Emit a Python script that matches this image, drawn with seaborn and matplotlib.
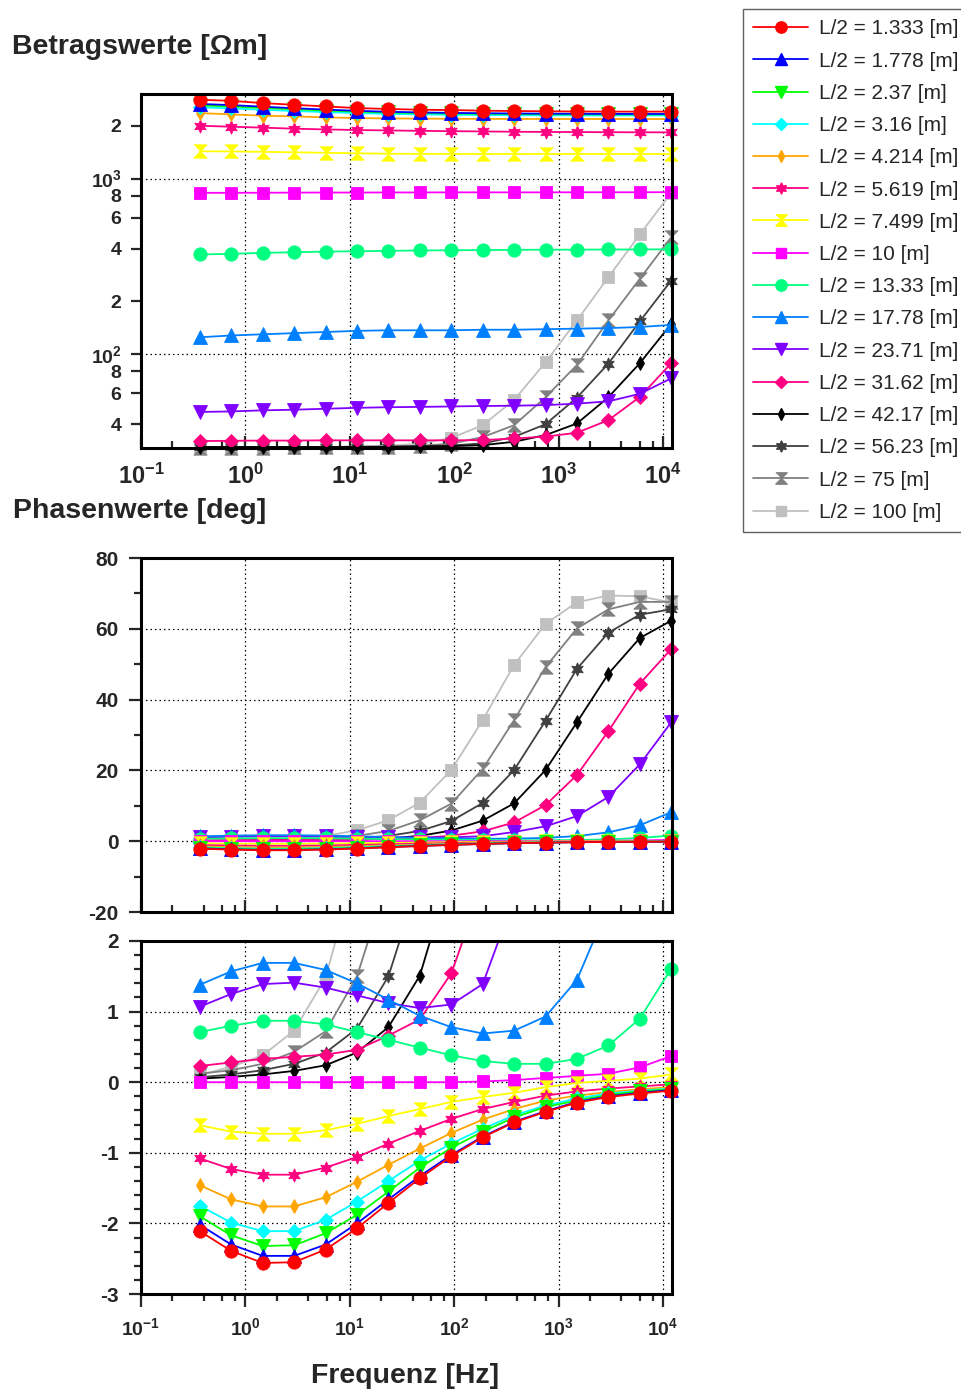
import matplotlib
matplotlib.use("Agg")
import matplotlib.pyplot as plt
from matplotlib.ticker import FixedLocator, FixedFormatter, NullFormatter
from matplotlib.lines import Line2D
import seaborn as sns

# ---------------------------------------------------------------- data
freq_hz = [0.366, 0.732, 1.465, 2.93, 5.86, 11.72, 23.44, 46.88, 93.75,
           187.5, 375.0, 750.0, 1500.0, 3000.0, 6000.0, 12000.0]

half_spacing = ["1.333", "1.778", "2.37", "3.16", "4.214", "5.619", "7.499",
                "10", "13.33", "17.78", "23.71", "31.62", "42.17", "56.23",
                "75", "100"]

# apparent resistivity magnitude [Ohm m]
amp_1_333 = [2810, 2770, 2690, 2630, 2575, 2520, 2490, 2465, 2455, 2435, 2425, 2415, 2410, 2405, 2405, 2405]
amp_1_778 = [2660, 2620, 2565, 2515, 2470, 2430, 2400, 2380, 2365, 2355, 2348, 2342, 2338, 2335, 2333, 2332]
amp_2_37 = [2610, 2575, 2525, 2480, 2440, 2405, 2378, 2360, 2348, 2338, 2330, 2325, 2322, 2320, 2318, 2318]
amp_3_16 = [2545, 2510, 2465, 2425, 2390, 2360, 2335, 2320, 2308, 2300, 2295, 2292, 2290, 2288, 2287, 2286]
amp_4_214 = [2360, 2320, 2280, 2260, 2230, 2210, 2200, 2195, 2190, 2188, 2185, 2185, 2183, 2183, 2183, 2183]
amp_5_619 = [2000, 1973, 1950, 1923, 1905, 1890, 1880, 1870, 1862, 1855, 1848, 1843, 1840, 1837, 1835, 1833]
amp_7_499 = [1430, 1428, 1420, 1412, 1402, 1393, 1385, 1382, 1381, 1380, 1380, 1380, 1380, 1380, 1380, 1380]
amp_10 = [830, 830, 831, 832, 833, 833, 834, 834, 835, 835, 835, 835, 836, 836, 836, 837]
amp_13_33 = [370, 373, 378, 381, 384, 386, 388, 390, 391, 392, 393, 394, 394, 395, 395, 396]
amp_17_78 = [125, 128, 130, 132, 134, 136, 137, 137, 137, 138, 138, 139, 140, 141, 143, 147]
amp_23_71 = [47.0, 47.3, 48.0, 48.4, 49.0, 49.6, 50.0, 50.2, 50.5, 50.8, 51.0, 51.4, 52.4, 54.0, 59.6, 73.0]
amp_31_62 = [32.1, 32.2, 32.3, 32.3, 32.4, 32.4, 32.4, 32.4, 32.4, 32.5, 33.2, 34.0, 35.8, 42.2, 57.2, 89.0]
amp_42_17 = [29.7, 29.7, 29.7, 29.7, 29.7, 29.8, 29.8, 29.9, 30.0, 30.4, 31.8, 34.7, 40.4, 57.0, 89.0, 149.0]
amp_56_23 = [29.5, 29.5, 29.5, 29.5, 29.6, 29.6, 29.7, 29.9, 30.3, 31.1, 33.9, 40.0, 56.7, 88.6, 154.0, 263.0]
amp_75 = [29.4, 29.4, 29.4, 29.5, 29.5, 29.6, 29.8, 30.2, 31.0, 33.8, 39.5, 57.0, 87.0, 156.0, 269.0, 464.0]
amp_100 = [29.3, 29.3, 29.4, 29.4, 29.5, 29.8, 30.2, 31.0, 33.4, 39.5, 55.0, 90.0, 156.0, 275.0, 481.0, 830.0]

# phase [deg]
pha_1_333 = [-2.11, -2.39, -2.56, -2.55, -2.37, -2.07, -1.71, -1.36, -1.05, -0.78, -0.57, -0.42, -0.29, -0.21, -0.16, -0.12]
pha_1_778 = [-2.02, -2.30, -2.46, -2.46, -2.30, -2.00, -1.66, -1.33, -1.03, -0.77, -0.56, -0.41, -0.28, -0.20, -0.15, -0.11]
pha_2_37 = [-1.90, -2.17, -2.32, -2.31, -2.14, -1.88, -1.55, -1.21, -0.93, -0.70, -0.50, -0.35, -0.26, -0.18, -0.13, -0.10]
pha_3_16 = [-1.75, -1.99, -2.11, -2.11, -1.95, -1.69, -1.40, -1.11, -0.87, -0.66, -0.47, -0.33, -0.23, -0.16, -0.12, -0.09]
pha_4_214 = [-1.46, -1.66, -1.76, -1.76, -1.63, -1.41, -1.17, -0.94, -0.72, -0.53, -0.38, -0.26, -0.19, -0.14, -0.10, -0.07]
pha_5_619 = [-1.08, -1.23, -1.31, -1.31, -1.21, -1.06, -0.87, -0.69, -0.52, -0.38, -0.28, -0.19, -0.13, -0.09, -0.06, -0.03]
pha_7_499 = [-0.61, -0.70, -0.73, -0.73, -0.68, -0.59, -0.48, -0.38, -0.28, -0.21, -0.15, -0.07, -0.01, 0.02, 0.05, 0.11]
pha_10 = [0.0, 0.0, 0.0, 0.0, 0.0, 0.0, 0.0, 0.0, 0.0, 0.01, 0.03, 0.06, 0.09, 0.12, 0.21, 0.37]
pha_13_33 = [0.71, 0.80, 0.87, 0.87, 0.82, 0.71, 0.60, 0.49, 0.38, 0.30, 0.26, 0.26, 0.33, 0.52, 0.90, 1.61]
pha_17_78 = [1.38, 1.57, 1.69, 1.69, 1.59, 1.40, 1.17, 0.94, 0.78, 0.69, 0.73, 0.93, 1.45, 2.5, 4.5, 8.2]
pha_23_71 = [1.07, 1.25, 1.39, 1.41, 1.34, 1.23, 1.12, 1.05, 1.10, 1.39, 2.6, 4.2, 7.1, 12.5, 21.7, 33.6]
pha_31_62 = [0.23, 0.28, 0.33, 0.36, 0.39, 0.46, 0.66, 0.89, 1.54, 2.8, 5.3, 10.2, 18.7, 31.1, 44.5, 54.3]
pha_42_17 = [0.05, 0.075, 0.11, 0.16, 0.24, 0.42, 0.78, 1.51, 3.0, 5.8, 10.7, 20.1, 33.6, 47.3, 57.4, 62.3]
pha_56_23 = [0.07, 0.11, 0.17, 0.26, 0.42, 0.76, 1.50, 2.9, 5.7, 10.8, 20.1, 34.0, 48.7, 58.9, 64.0, 65.5]
pha_75 = [0.12, 0.17, 0.26, 0.43, 0.72, 1.50, 2.9, 5.9, 10.6, 20.4, 34.2, 49.2, 60.1, 65.5, 67.6, 67.6]
pha_100 = [0.10, 0.22, 0.38, 0.73, 1.48, 3.1, 5.9, 10.9, 20.1, 34.2, 49.8, 61.4, 67.5, 69.4, 69.2, 67.4]

amplitude = [amp_1_333, amp_1_778, amp_2_37, amp_3_16, amp_4_214, amp_5_619, amp_7_499, amp_10,
             amp_13_33, amp_17_78, amp_23_71, amp_31_62, amp_42_17, amp_56_23, amp_75, amp_100]
phase = [pha_1_333, pha_1_778, pha_2_37, pha_3_16, pha_4_214, pha_5_619, pha_7_499, pha_10,
         pha_13_33, pha_17_78, pha_23_71, pha_31_62, pha_42_17, pha_56_23, pha_75, pha_100]

# ---------------------------------------------------------------- styles
star6 = (6, 1, 0)
hourglass = [(-1, 1), (1, 1), (0, 0), (1, -1), (-1, -1), (0, 0)]
colors = ["#FF0000", "#0000FF", "#00FF00", "#00FFFF", "#FFA500", "#FF0080",
          "#FFFF00", "#FF00FF", "#00FF80", "#0080FF", "#8000FF", "#FF0080",
          "#000000", "#404040", "#808080", "#C0C0C0"]
markers = ["o", "^", "v", "D", "d", star6, hourglass, "s",
           "o", "^", "v", "D", "d", star6, hourglass, "s"]
msizes = [9.6, 9.4, 9.4, 6.8, 6.8, 9.6, 9.6, 9.0,
          9.6, 9.4, 9.4, 6.8, 6.8, 9.6, 9.6, 9.0]

sns.set_style("white")
plt.rcParams["font.family"] = ["Liberation Sans", "DejaVu Sans"]
plt.rcParams["font.weight"] = "bold"
plt.rcParams["axes.unicode_minus"] = False
plt.rcParams["mathtext.fontset"] = "custom"
plt.rcParams["mathtext.rm"] = "Liberation Sans"
plt.rcParams["mathtext.bf"] = "Liberation Sans:bold"

W, H = 961, 1393
fig = plt.figure(figsize=(W / 100, H / 100), dpi=100)


def box(left, top, right, bottom):
    return [left / W, 1 - bottom / H, (right - left) / W, (bottom - top) / H]


ax_amp = fig.add_axes(box(141, 94, 672, 448))
ax_ph = fig.add_axes(box(141, 558, 672, 912))
ax_zm = fig.add_axes(box(141, 941, 672, 1294))

LW = 1.3


def draw(ax, values, i, lo, hi):
    c = colors[i]
    sns.lineplot(x=freq_hz, y=values, ax=ax, color=c, linewidth=LW,
                 legend=False, errorbar=None, sort=False)
    pts = [(f, v) for f, v in zip(freq_hz, values) if lo <= v <= hi]
    sns.lineplot(x=[p[0] for p in pts], y=[p[1] for p in pts], ax=ax,
                 color=c, linestyle="none", marker=markers[i],
                 markersize=msizes[i], markeredgecolor=c, markeredgewidth=0.6,
                 clip_on=False, legend=False, errorbar=None, sort=False)


for i in reversed(range(len(half_spacing))):
    draw(ax_amp, amplitude[i], i, 29.0, 3100)
    draw(ax_ph, phase[i], i, -20, 80)
    draw(ax_zm, phase[i], i, -3, 2)

# ---------------------------------------------------------------- axes
decades = [0.1, 1, 10, 100, 1000, 10000]
dec_labels = [r"$\mathbf{10^{-1}}$", r"$\mathbf{10^{0}}$", r"$\mathbf{10^{1}}$",
              r"$\mathbf{10^{2}}$", r"$\mathbf{10^{3}}$", r"$\mathbf{10^{4}}$"]
minor_x = [m * d for d in decades[:-1] for m in (2, 4, 6, 8)] + [20000]

for ax in (ax_amp, ax_ph, ax_zm):
    ax.set_xscale("log")
    ax.set_xlim(0.1, 12200)
    ax.xaxis.set_major_locator(FixedLocator(decades))
    ax.xaxis.set_minor_locator(FixedLocator(minor_x))
    ax.xaxis.set_minor_formatter(NullFormatter())
    ax.set_axisbelow(True)
    ax.grid(True, which="major", color="black", linestyle=(0, (1.2, 2.4)), linewidth=0.9)
    ax.grid(False, which="minor")
    for s in ax.spines.values():
        s.set_linewidth(2.2)
        s.set_color("black")
    ax.set_xlabel("")
    ax.set_ylabel("")

# magnitude panel
ax_amp.set_yscale("log")
ax_amp.set_ylim(29.3, 3030)
ax_amp.yaxis.set_major_locator(FixedLocator([100, 1000]))
ax_amp.yaxis.set_major_formatter(FixedFormatter([r"$\mathbf{10^{2}}$", r"$\mathbf{10^{3}}$"]))
ax_amp.yaxis.set_minor_locator(FixedLocator([40, 60, 80, 200, 400, 600, 800, 2000]))
ax_amp.yaxis.set_minor_formatter(FixedFormatter(["4", "6", "8", "2", "4", "6", "8", "2"]))
ax_amp.xaxis.set_major_formatter(FixedFormatter(dec_labels))
ax_amp.tick_params(axis="y", which="both", direction="out", length=7, width=1.6,
                   labelsize=14, pad=7, left=True)
ax_amp.tick_params(axis="x", which="major", direction="in", length=9, width=1.6,
                   labelsize=17, pad=11, bottom=True)
ax_amp.tick_params(axis="x", which="minor", direction="in", length=5, width=1.6, bottom=True)

# phase panel, full range
ax_ph.set_ylim(-20, 80)
ax_ph.yaxis.set_major_locator(FixedLocator([-20, 0, 20, 40, 60, 80]))
ax_ph.yaxis.set_minor_locator(FixedLocator([-10, 10, 30, 50, 70]))
ax_ph.xaxis.set_major_formatter(NullFormatter())
ax_ph.tick_params(axis="y", which="major", direction="out", length=9, width=1.6,
                  labelsize=15, pad=7, left=True)
ax_ph.tick_params(axis="y", which="minor", direction="out", length=5, width=1.6, left=True)
ax_ph.tick_params(axis="x", which="major", direction="in", length=9, width=1.6, bottom=True)
ax_ph.tick_params(axis="x", which="minor", direction="in", length=5, width=1.6, bottom=True)

# phase panel, zoomed range
ax_zm.set_ylim(-3, 2)
ax_zm.yaxis.set_major_locator(FixedLocator([-3, -2, -1, 0, 1, 2]))
ax_zm.yaxis.set_minor_locator(FixedLocator([v / 10 for v in range(-30, 21, 2) if v % 10]))
ax_zm.xaxis.set_major_formatter(FixedFormatter(dec_labels))
ax_zm.tick_params(axis="y", which="major", direction="out", length=9, width=1.6,
                  labelsize=15, pad=7, left=True)
ax_zm.tick_params(axis="y", which="minor", direction="out", length=5, width=1.6, left=True)
ax_zm.tick_params(axis="x", which="major", direction="out", length=9, width=1.6,
                  labelsize=14, pad=8, bottom=True)
ax_zm.tick_params(axis="x", which="minor", direction="out", length=5, width=1.6, bottom=True)

# ---------------------------------------------------------------- texts
fig.text(12 / W, 1 - 47 / H, "Betragswerte [\u03a9m]", fontsize=20.5, fontweight="bold", va="center")
fig.text(13 / W, 1 - 511 / H, "Phasenwerte [deg]", fontsize=20.5, fontweight="bold", va="center")
fig.text(405 / W, 1 - 1376 / H, "Frequenz [Hz]", fontsize=20.5, fontweight="bold",
         va="center", ha="center")

handles = [Line2D([], [], color=colors[i], linewidth=LW, marker=markers[i],
                  markersize=msizes[i] * 0.85, markeredgecolor=colors[i])
           for i in range(len(half_spacing))]
labels = [f"L/2 = {h} [m]" for h in half_spacing]
leg = fig.legend(handles, labels, loc="upper left", bbox_to_anchor=(743 / W, 1 - 9 / H),
                 frameon=True, fancybox=False, edgecolor="#606060", framealpha=1,
                 prop={"family": "Liberation Sans", "weight": "normal", "size": 15},
                 handlelength=2.6, handletextpad=0.56, labelspacing=0.635,
                 borderpad=0.5, borderaxespad=0)
leg.get_frame().set_linewidth(1.0)

fig.savefig("out.png", dpi=100)
